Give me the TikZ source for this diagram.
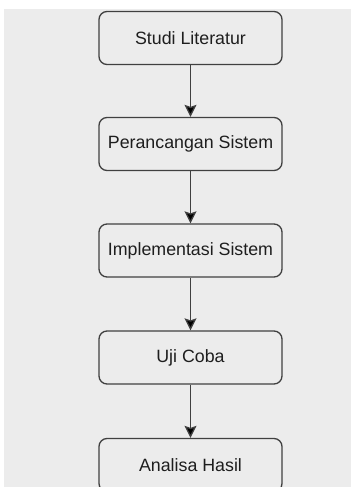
\documentclass[tikz,border=0pt]{standalone}
\usepackage{fontspec}
\setmainfont{Liberation Sans}
\usetikzlibrary{arrows.meta}
\definecolor{bggray}{HTML}{ECECEC}
\definecolor{linegray}{HTML}{404040}
\definecolor{textgray}{HTML}{1E1E1E}
\tikzset{
  stepbox/.style={draw=linegray, line width=1.3pt, rounded corners=8pt,
    minimum width=183pt, minimum height=53pt, text=textgray,
    font=\fontsize{17.8}{20}\selectfont},
  flow/.style={draw=linegray, line width=1.3pt, -{Stealth[length=12pt,width=12pt,inset=2pt,fill=black]}}
}
\begin{document}
\begin{tikzpicture}[x=1pt,y=-1pt]
      \useasboundingbox (0,0) rectangle (351,487);
      \fill[bggray] (4,9) rectangle (351,487);

      \node[stepbox] (SL) at (190.5,38){Studi Literatur};
      \node[stepbox] (PS) at (190.5,144){Perancangan Sistem};
      \node[stepbox] (IS) at (190.5,250.5){Implementasi Sistem};
      \node[stepbox] (UC) at (190.5,357.5){Uji Coba};
      \node[stepbox] (AH) at (190.5,465){Analisa Hasil};

      \draw (SL) edge[flow] (PS);
      \draw (PS) edge[flow] (IS);
      \draw (IS) edge[flow] (UC);
      \draw (UC) edge[flow] (AH);
    \end{tikzpicture}
\end{document}
